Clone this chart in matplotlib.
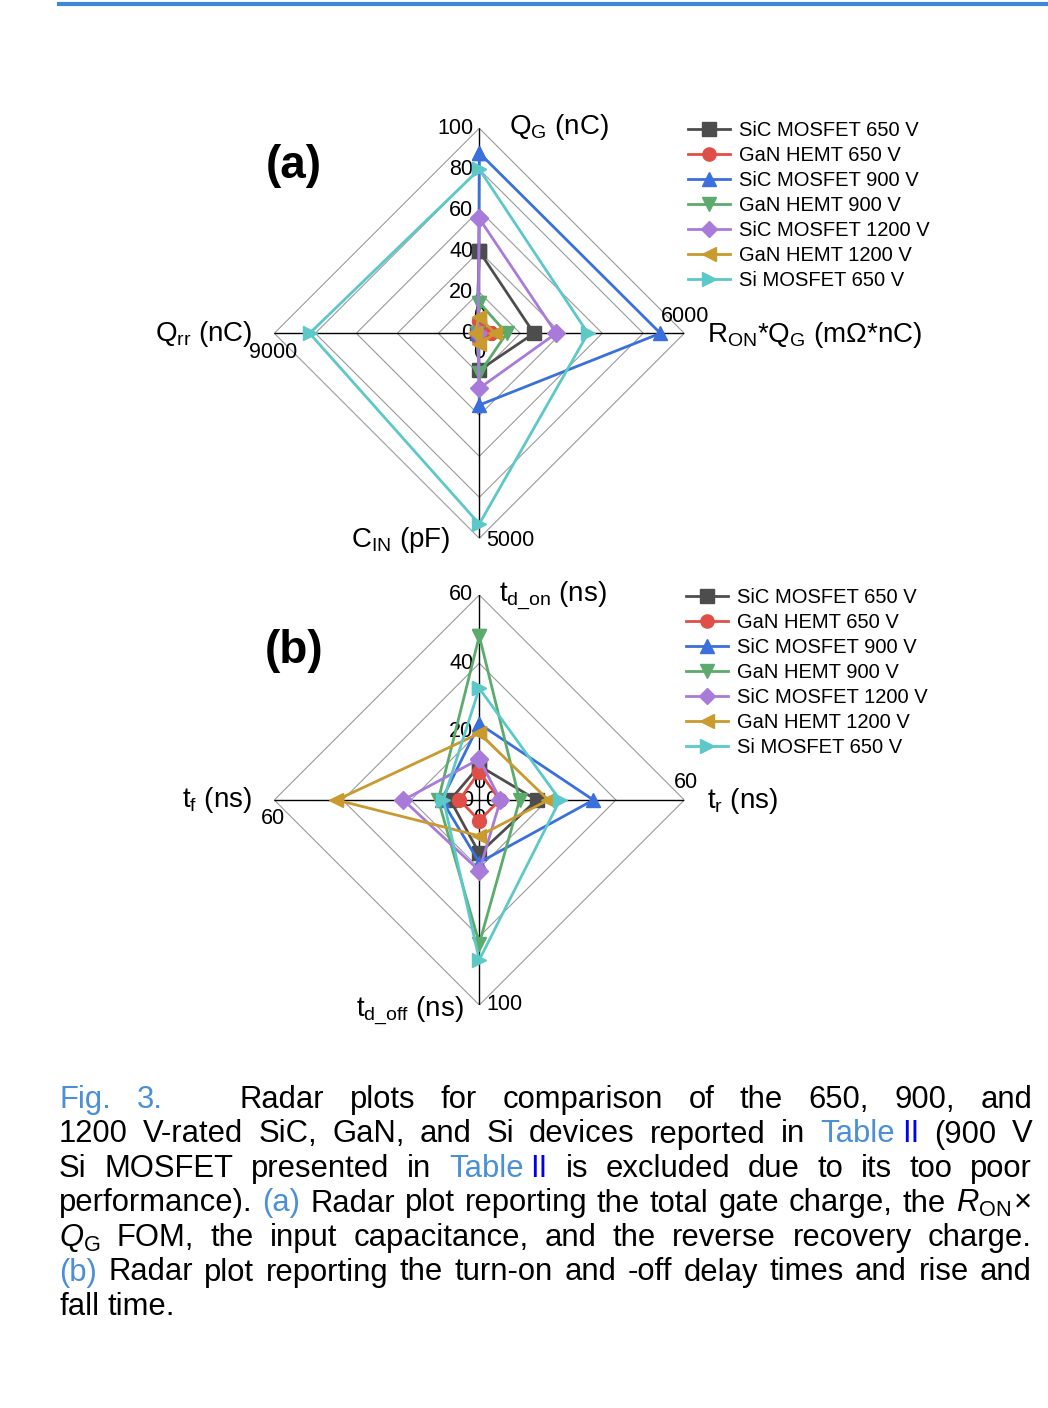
import numpy as np
import matplotlib
matplotlib.use('Agg')
import matplotlib.pyplot as plt
from matplotlib.lines import Line2D
from matplotlib.transforms import ScaledTranslation

plt.rcParams['font.family'] = ['Liberation Sans', 'DejaVu Sans']
plt.rcParams['mathtext.fontset'] = 'custom'
plt.rcParams['mathtext.rm'] = 'Liberation Sans'
plt.rcParams['mathtext.it'] = 'Liberation Sans:italic'
plt.rcParams['mathtext.bf'] = 'Liberation Sans:bold'

W, H = 1048, 1408

# devices and styles
devices = ['SiC MOSFET 650 V', 'GaN HEMT 650 V', 'SiC MOSFET 900 V', 'GaN HEMT 900 V',
           'SiC MOSFET 1200 V', 'GaN HEMT 1200 V', 'Si MOSFET 650 V']
colors = ['#4d4d4d', '#e04f47', '#3a6fdc', '#5aab6c', '#a87bda', '#c99a2e', '#5cc8c8']
markers = ['s', 'o', '^', 'v', 'D', '<', '>']

# panel (a): QG (nC), RON*QG (mOhm*nC), CIN (pF), Qrr (nC)
max_a = [100, 6000, 5000, 9000]
qg = [40, 6, 88, 15, 56, 8, 80]
ron_qg = [1600, 330, 5300, 800, 2250, 460, 3180]
cin = [900, 160, 1750, 980, 1340, 270, 4650]
qrr = [120, 110, 40, 120, 60, 200, 7450]
ticks_a = [0, 20, 40, 60, 80, 100]

# panel (b): td_on, tr, td_off, tf (ns)
max_b = [60, 60, 100, 60]
td_on = [10, 8.3, 22.3, 48, 12, 19.5, 32.7]
t_r = [16.8, 6, 33.4, 11.8, 6.2, 20.2, 23.6]
td_off = [26, 10, 30.5, 70, 34.5, 17.5, 78]
t_f = [8.5, 5.8, 11, 12, 22.2, 41.8, 10.5]
ticks_b = [0, 20, 40, 60]

theta = [0, np.pi / 2, np.pi, 3 * np.pi / 2]

fig = plt.figure(figsize=(W / 100, H / 100), dpi=100)
fig.patch.set_facecolor('white')


def fx(px):
    return px / W


def fy(py):
    return 1 - py / H


# top rule
fig.add_artist(Line2D([fx(59), 1], [fy(3.5), fy(3.5)], color='#3f88d6', lw=3))


def radar(cx, cy, cols, maxes, rings):
    R = 205
    ax = fig.add_axes([fx(cx - R), fy(cy + R), 2 * R / W, 2 * R / H], projection='polar')
    ax.set_theta_zero_location('N')
    ax.set_theta_direction(-1)
    ax.set_ylim(0, 1)
    ax.set_axis_off()
    for k in rings:
        ax.plot(theta + theta[:1], [k] * 5, color='#9a9a9a', lw=0.8, zorder=1)
    for t in theta:
        ax.plot([t, t], [0, 1], color='black', lw=1.0, zorder=1.5)
    for i in range(len(devices)):
        r = [c[i] / m for c, m in zip(cols, maxes)]
        ax.plot(theta + theta[:1], r + r[:1], color=colors[i], marker=markers[i],
                ms=9 if markers[i] == 'D' else 10, lw=2, clip_on=False, zorder=3 + i)
    return ax


def tick(ax, t, r, s, dx, dy, ha, va='center'):
    tr = ax.transData + ScaledTranslation(dx / 100, -dy / 100, fig.dpi_scale_trans)
    ax.text(t, r, s, transform=tr, ha=ha, va=va, fontsize=15.5, zorder=2)


# ---- panel (a)
axa = radar(479.3, 333.3, [qg, ron_qg, cin, qrr], max_a, [0.2, 0.4, 0.6, 0.8, 1.0])
for v in ticks_a:
    tick(axa, 0, v / 100, str(v), -6, 0, 'right')
tick(axa, np.pi / 2, 1, '6000', 1, -17, 'center')
tick(axa, np.pi / 2, 0, '0', 0, -17, 'center')
tick(axa, np.pi, 1, '5000', 7, 2, 'left')
tick(axa, np.pi, 0, '0', 6, 2, 'left')
tick(axa, 3 * np.pi / 2, 1, '9000', -1, 19, 'center')
tick(axa, 3 * np.pi / 2, 0, '0', 0, 19, 'center')

fs_t = 20
fig.text(fx(559), fy(134), r'Q$_\mathrm{G}$ (nC)', fontsize=fs_t, ha='center', va='baseline')
fig.text(fx(707), fy(342), r'R$_\mathrm{ON}$*Q$_\mathrm{G}$ (m$\Omega$*nC)', fontsize=fs_t,
         ha='left', va='baseline')
fig.text(fx(401), fy(547), r'C$_\mathrm{IN}$ (pF)', fontsize=fs_t, ha='center', va='baseline')
fig.text(fx(204), fy(341), r'Q$_\mathrm{rr}$ (nC)', fontsize=fs_t, ha='center', va='baseline')
fig.text(fx(294), fy(166), '(a)', fontsize=33, fontweight='bold', ha='center', va='center')

# ---- panel (b)
axb = radar(479.3, 800, [td_on, t_r, td_off, t_f], max_b, [1 / 3, 2 / 3, 1.0])
for v in ticks_b:
    tick(axb, 0, v / 60, str(v), -6, 0, 'right')
tick(axb, np.pi / 2, 1, '60', 2, -17, 'center')
tick(axb, np.pi / 2, 0, '0', 0, -17, 'center')
tick(axb, np.pi, 1, '100', 7, 0, 'left')
tick(axb, np.pi, 0, '0', 6, 0, 'left')
tick(axb, 3 * np.pi / 2, 1, '60', -1, 18, 'center')
tick(axb, 3 * np.pi / 2, 0, '0', 0, 18, 'center')

fig.text(fx(553), fy(601), r't$_\mathrm{d\_on}$ (ns)', fontsize=fs_t, ha='center', va='baseline')
fig.text(fx(707), fy(808), r't$_\mathrm{r}$ (ns)', fontsize=fs_t, ha='left', va='baseline')
fig.text(fx(410), fy(1016), r't$_\mathrm{d\_off}$ (ns)', fontsize=fs_t, ha='center', va='baseline')
fig.text(fx(217), fy(807), r't$_\mathrm{f}$ (ns)', fontsize=fs_t, ha='center', va='baseline')
fig.text(fx(294), fy(651), '(b)', fontsize=33, fontweight='bold', ha='center', va='center')

# legends
handles = [Line2D([], [], color=c, marker=m, ms=8.5 if m == 'D' else 9.5, lw=2)
           for c, m in zip(colors, markers)]
for lx, ly in [(688, 121), (686, 588)]:
    fig.legend(handles, devices, loc='upper left', bbox_to_anchor=(fx(lx), fy(ly)),
               frameon=False, fontsize=14.5, handlelength=2.1, handletextpad=0.45,
               labelspacing=0.30, borderpad=0, borderaxespad=0)

# ---- caption (justified)
LB = '#4a8fd8'
DB = '#0000ee'
K = 'black'
cap_fs = 22.3
L, Rm = 59, 1032
baselines = [1108, 1142.5, 1177, 1211.5, 1246, 1280.5, 1315]


def words(s, c=K):
    return [(w, c, 0) for w in s.split()]


lines = [
    [('Fig.', LB, 0), ('3.', LB, 0), ('Radar', K, 52)] + words('plots for comparison of the 650, 900, and'),
    words('1200 V-rated SiC, GaN, and Si devices reported in') + [('Table', LB, 0), ('II', DB, 'a')]
    + words('(900 V'),
    words('Si MOSFET presented in') + [('Table', LB, 0), ('II', DB, 'a')]
    + words('is excluded due to its too poor'),
    words('performance).') + [('(a)', LB, 0)]
    + words('Radar plot reporting the total gate charge, the') + [(r'$R_{\mathrm{ON}}$', K, 0), ('\u00d7', K, 'x')],
    [(r'$Q_{\mathrm{G}}$', K, 0)] + words('FOM, the input capacitance, and the reverse recovery charge.'),
    [('(b)', LB, 0)] + words('Radar plot reporting the turn-on and -off delay times and rise and'),
    words('fall time.'),
]

renderer = fig.canvas.get_renderer()


def measure(s):
    t = fig.text(0, 0, s, fontsize=cap_fs)
    w = t.get_window_extent(renderer).width
    t.remove()
    return w


space_w = measure('a a') - measure('aa')
for li, toks in enumerate(lines):
    ws = [measure(t[0]) for t in toks]
    fixed = 0
    ngap = 0
    for j, t in enumerate(toks[1:], 1):
        if t[2] == 'a':
            fixed += 7
        elif t[2] == 'x':
            fixed += 3
        else:
            ngap += 1
            fixed += t[2]
    last = li == len(lines) - 1
    gap = space_w if last else (Rm - L - sum(ws) - fixed) / ngap
    x = L
    for j, t in enumerate(toks):
        if j > 0:
            if t[2] == 'a':
                x += 7
            elif t[2] == 'x':
                x += 3
            else:
                x += gap + t[2]
        fig.text(fx(x), fy(baselines[li]), t[0], fontsize=cap_fs, color=t[1],
                 ha='left', va='baseline')
        x += ws[j]

fig.savefig('out.png', dpi=100)
